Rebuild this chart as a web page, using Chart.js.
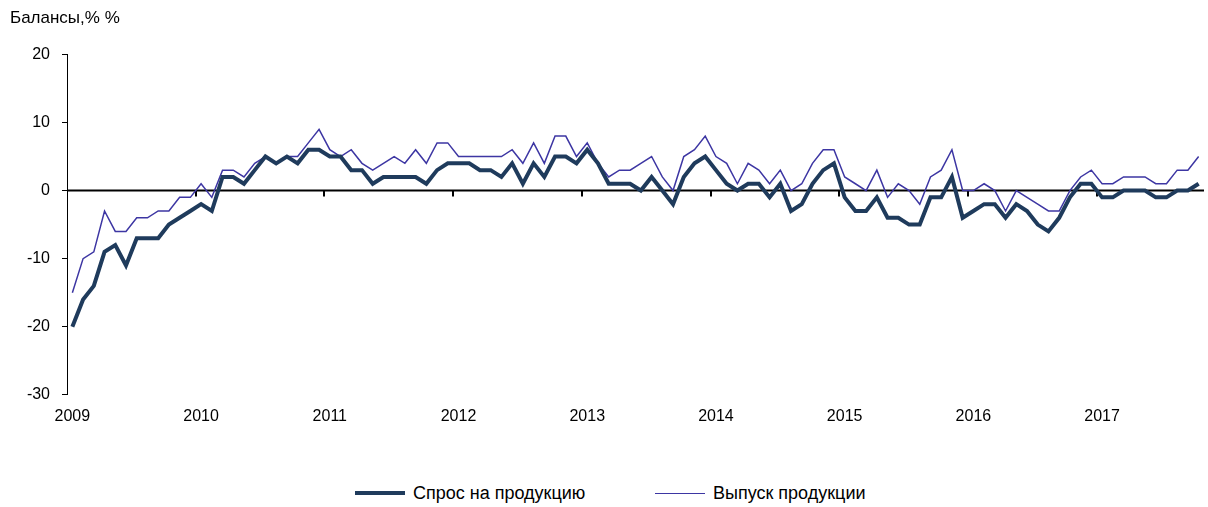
<!DOCTYPE html>
<html>
<head>
<meta charset="utf-8">
<script src="https://cdn.jsdelivr.net/npm/chart.js@4/dist/chart.umd.min.js"></script>
<style>
  html, body { margin: 0; padding: 0; background: #fff; overflow: hidden; }
  #page { width: 1208px; height: 507px; position: relative; }
  #wrap { width: 1208px; height: 430px; position: absolute; left: 0; top: 0; }
  #legend { position: absolute; left: 0; top: 481px; width: 1208px; height: 24px;
            font-family: 'Liberation Sans', Arial, sans-serif; font-size: 18px; color: #000; }
  #legend .item { position: absolute; top: 0; display: flex; align-items: center; height: 24px; white-space: nowrap; }
  #legend .swatch { width: 50px; margin-right: 8px; }
</style>
</head>
<body>
<div id="page">
  <div id="wrap"><canvas id="balance-chart"></canvas></div>
  <div id="legend"></div>
</div>
<script>
// годы на оси X (подпись ставится на январь)
const years = ['2009', '2010', '2011', '2012', '2013', '2014', '2015', '2016', '2017'];

// Спрос на продукцию, январь 2009 - октябрь 2017
const demand = [
  -20, -16, -14, -9, -8, -11, -7, -7, -7, -5, -4, -3,
  -2, -3, 2, 2, 1, 3, 5, 4, 5, 4, 6, 6,
  5, 5, 3, 3, 1, 2, 2, 2, 2, 1, 3, 4,
  4, 4, 3, 3, 2, 4, 1, 4, 2, 5, 5, 4,
  6, 4, 1, 1, 1, 0, 2, 0, -2, 2, 4, 5,
  3, 1, 0, 1, 1, -1, 1, -3, -2, 1, 3, 4,
  -1, -3, -3, -1, -4, -4, -5, -5, -1, -1, 2, -4,
  -3, -2, -2, -4, -2, -3, -5, -6, -4, -1, 1, 1,
  -1, -1, 0, 0, 0, -1, -1, 0, 0, 1
];

// Выпуск продукции
const output = [
  -15, -10, -9, -3, -6, -6, -4, -4, -3, -3, -1, -1,
  1, -1, 3, 3, 2, 4, 5, 4, 5, 5, 7, 9,
  6, 5, 6, 4, 3, 4, 5, 4, 6, 4, 7, 7,
  5, 5, 5, 5, 5, 6, 4, 7, 4, 8, 8, 5,
  7, 4, 2, 3, 3, 4, 5, 2, 0, 5, 6, 8,
  5, 4, 1, 4, 3, 1, 3, 0, 1, 4, 6, 6,
  2, 1, 0, 3, -1, 1, 0, -2, 2, 3, 6, 0,
  0, 1, 0, -3, 0, -1, -2, -3, -3, 0, 2, 3,
  1, 1, 2, 2, 2, 1, 1, 3, 3, 5
];

const labels = demand.map((_, i) => (i % 12 === 0 ? years[i / 12] : ''));

// нулевая линия и засечки между годами
const zeroAxis = {
  id: 'zeroAxis',
  beforeDatasetsDraw(chart) {
    const { ctx, chartArea, scales } = chart;
    const y0 = scales.y.getPixelForValue(0);
    ctx.save();
    ctx.strokeStyle = '#000';
    ctx.lineWidth = 2;
    ctx.beginPath();
    ctx.moveTo(chartArea.left, y0);
    ctx.lineTo(chartArea.right, y0);
    ctx.stroke();
    for (let i = 12; i < labels.length; i += 12) {
      const x = Math.round((scales.x.getPixelForValue(i - 1) + scales.x.getPixelForValue(i)) / 2);
      ctx.beginPath();
      ctx.moveTo(x, y0);
      ctx.lineTo(x, y0 + 6);
      ctx.stroke();
    }
    ctx.restore();
  }
};

const ctx = document.getElementById('balance-chart').getContext('2d');
const balanceChart = new Chart(ctx, {
  type: 'line',
  data: {
    labels: labels,
    datasets: [{
      label: 'Спрос на продукцию',
      data: demand,
      borderColor: '#1f3b5c',
      backgroundColor: '#1f3b5c',
      borderWidth: 4,
      pointRadius: 0,
      tension: 0
    }, {
      label: 'Выпуск продукции',
      data: output,
      borderColor: '#3d36a3',
      backgroundColor: '#3d36a3',
      borderWidth: 1.5,
      pointRadius: 0,
      tension: 0
    }]
  },
  options: {
    responsive: true,
    maintainAspectRatio: false,
    animation: false,
    layout: { padding: { left: 10, right: 4, top: 0, bottom: 0 } },
    plugins: {
      tooltip: { enabled: false },
      legend: { display: false },
      title: {
        display: true,
        text: 'Балансы,% %',
        align: 'start',
        color: '#000',
        font: { family: 'Liberation Sans', size: 17, weight: 'normal' },
        padding: { top: 8, bottom: 26 }
      }
    },
    scales: {
      x: {
        type: 'category',
        offset: true,
        grid: { display: false },
        border: { display: false },
        ticks: {
          autoSkip: false,
          maxRotation: 0,
          padding: 4,
          color: '#000',
          font: { family: 'Liberation Sans', size: 16 }
        }
      },
      y: {
        min: -30,
        max: 20,
        ticks: {
          stepSize: 10,
          padding: 12,
          color: '#000',
          font: { family: 'Liberation Sans', size: 16 }
        },
        grid: { drawOnChartArea: false, drawTicks: true, tickLength: 5, color: '#000' },
        border: { display: true, color: '#000', width: 1 },
        afterFit(scale) { scale.width = 57; }
      }
    }
  },
  plugins: [zeroAxis]
});

// легенда внизу, по наборам данных графика
const legendLeft = [355, 655];
const legendBox = document.getElementById('legend');
balanceChart.data.datasets.forEach((ds, i) => {
  const item = document.createElement('div');
  item.className = 'item';
  item.style.left = legendLeft[i] + 'px';
  const swatch = document.createElement('span');
  swatch.className = 'swatch';
  swatch.style.borderTop = ds.borderWidth + 'px solid ' + ds.borderColor;
  const text = document.createElement('span');
  text.textContent = ds.label;
  item.appendChild(swatch);
  item.appendChild(text);
  legendBox.appendChild(item);
});
</script>
</body>
</html>
